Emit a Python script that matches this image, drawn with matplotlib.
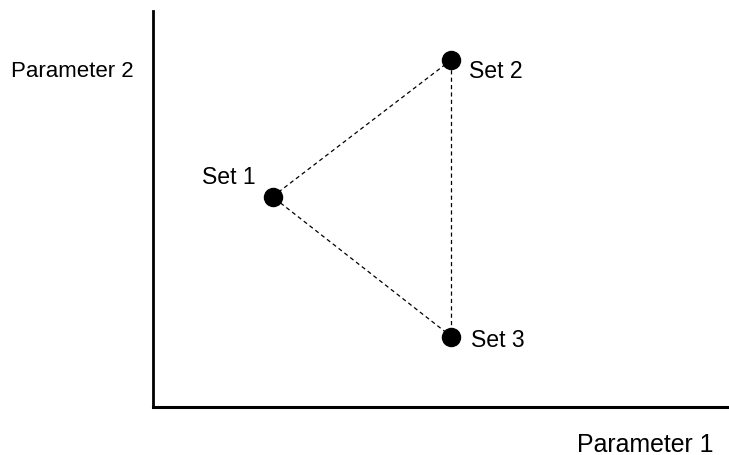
import matplotlib
matplotlib.use("Agg")
import matplotlib.pyplot as plt

set_names = ["Set 1", "Set 2", "Set 3"]
param1 = [120, 299, 299]
param2 = [210, 347, 70]
label_offsets_px = [(-70, 14), (18, -17), (20, -9)]

W, H = 729, 456
fig = plt.figure(figsize=(W / 100, H / 100), dpi=100)
x0, y_bot, x1, y_top = 152.5, 407.7, 728, 12
ax = fig.add_axes([x0 / W, (H - y_bot) / H, (x1 - x0) / W, (y_bot - y_top) / H])
ax.set_xlim(0, x1 - x0)
ax.set_ylim(0, y_bot - y_top)

font = ["Liberation Sans", "DejaVu Sans"]

# dashed triangle
order = [0, 1, 2, 0]
ax.plot([param1[i] for i in order], [param2[i] for i in order],
        color="black", linewidth=0.9, linestyle=(0, (3.3, 2.6)), zorder=2)
ax.plot(param1, param2, linestyle="none", marker="o", markersize=13,
        color="black", zorder=3, clip_on=False)

for name, xv, yv, (dx, dy) in zip(set_names, param1, param2, label_offsets_px):
    ax.annotate(name, (xv, yv), xytext=(dx, dy), textcoords="offset pixels",
                fontsize=16.6, family=font, va="baseline", ha="left")

for side in ["top", "right"]:
    ax.spines[side].set_visible(False)
ax.spines["left"].set_linewidth(2.0)
ax.spines["bottom"].set_linewidth(2.2)
ax.set_xticks([])
ax.set_yticks([])

fig.text(11 / W, 1 - 77 / H, "Parameter 2", fontsize=16, family=font, va="baseline", ha="left")
fig.text(577 / W, 1 - 452 / H, "Parameter 1", fontsize=17.9, family=font, va="baseline", ha="left")

fig.savefig("out.png", dpi=100, facecolor="white")
